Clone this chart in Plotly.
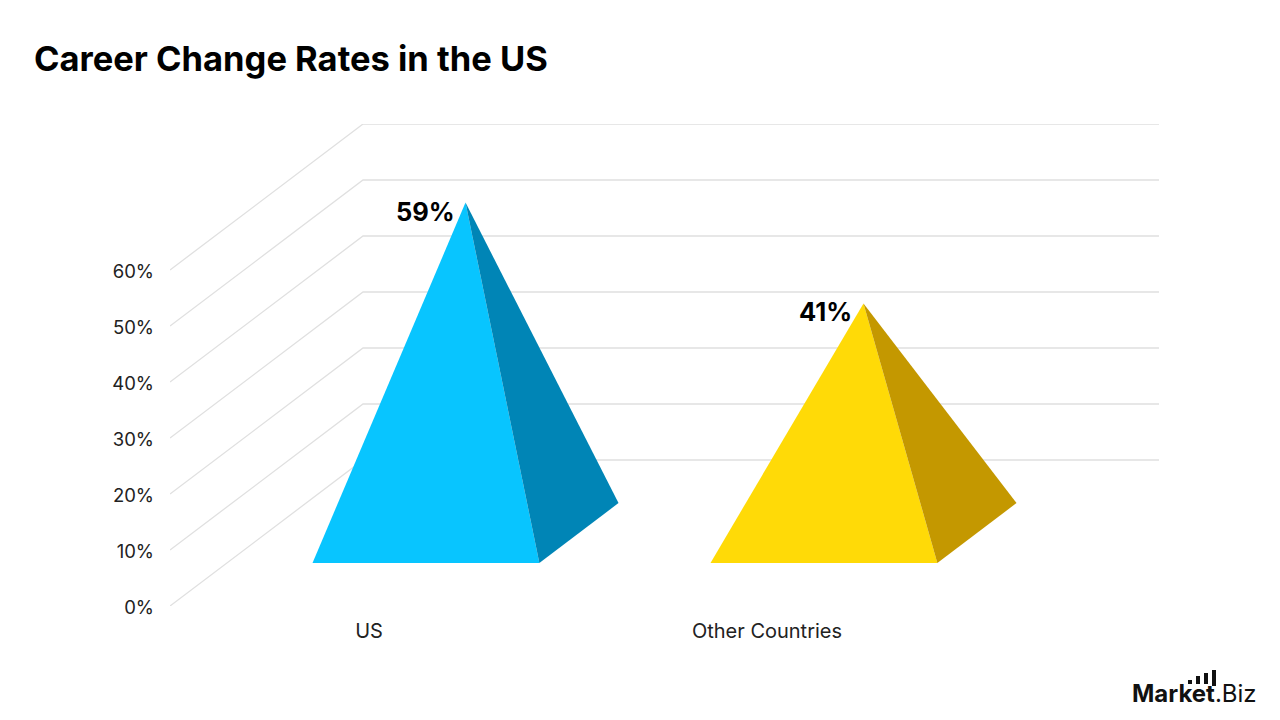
import plotly.graph_objects as go

# Chart content
title = "Career Change Rates in the US"
categories = ["US", "Other Countries"]
values = [59, 41]
front_colors = ["#08C5FF", "#FFDA07"]
side_colors = ["#0085B6", "#C49800"]
y_ticks = [0, 10, 20, 30, 40, 50, 60]
y_tick_labels = ["0%", "10%", "20%", "30%", "40%", "50%", "60%"]
logo_bar_left = [1188, 1196, 1204, 1212]
logo_bar_top = [680, 676, 673, 670]
logo_bar_bottom = [684, 684, 684, 686]

# Oblique projection of the 3D plot box
DEPTH_DX = 0.485     # category units shifted at full depth
DEPTH_DY = 26.07     # percentage units lifted at full depth
BASE_WIDTH = 0.57
BASE_NEAR, BASE_FAR = 0.295, 0.705
WALL_END = 1.985
FONT = "Inter"
WIDTH, HEIGHT = 1280, 720


def project(x, depth, height):
    return x + depth * DEPTH_DX, height + depth * DEPTH_DY


fig = go.Figure()

# Back wall and side wall gridlines, joined at the back corner
for tick in y_ticks:
    xs, ys = zip(project(-0.5, 0, tick), project(-0.5, 1, tick), project(WALL_END - DEPTH_DX, 1, tick))
    fig.add_trace(go.Scatter(x=xs, y=ys, mode="lines", line=dict(color="#E0E0E0", width=1.3),
                             hoverinfo="skip", showlegend=False, cliponaxis=False))

# Pyramids: visible front face and right face, apex over the base centre
for i, (name, value) in enumerate(zip(categories, values)):
    left, right = i - BASE_WIDTH / 2, i + BASE_WIDTH / 2
    front_l = project(left, BASE_NEAR, 0)
    front_r = project(right, BASE_NEAR, 0)
    back_r = project(right, BASE_FAR, 0)
    apex = project(i, 0.5, value)
    for pts, color in (((front_l, front_r, apex), front_colors[i]), ((front_r, back_r, apex), side_colors[i])):
        xs, ys = zip(*pts)
        fig.add_trace(go.Scatter(x=xs, y=ys, mode="lines", fill="toself", fillcolor=color,
                                 line=dict(width=0), name=name, showlegend=False, cliponaxis=False))
    fig.add_annotation(x=apex[0], y=apex[1], text=f"<b>{value}%</b>", showarrow=False,
                       xanchor="right", yanchor="middle", xshift=-9, yshift=-8.5,
                       font=dict(family=FONT, size=25.5, color="#000000"))

# Brand mark in the lower right corner
fig.add_annotation(xref="paper", yref="paper", x=1, y=0, xanchor="right", yanchor="bottom",
                   text="<b>Market</b>.Biz", showarrow=False, xshift=100, yshift=-104,
                   font=dict(family=FONT, size=24, color="#111111"))
for bar_left, bar_top, bar_bottom in zip(logo_bar_left, logo_bar_top, logo_bar_bottom):
    fig.add_shape(type="rect", xref="x domain", yref="y domain", line_width=0, fillcolor="#111111",
                  x0=(bar_left - 170) / 989, x1=(bar_left + 4 - 170) / 989,
                  y0=(606 - bar_bottom) / 482, y1=(606 - bar_top) / 482)

fig.update_layout(
    width=WIDTH, height=HEIGHT, paper_bgcolor="white", plot_bgcolor="white",
    margin=dict(l=170, r=121, t=124, b=114, autoexpand=False),
    title=dict(text=f"<b>{title}</b>", x=34 / WIDTH, xanchor="left", y=1 - 59 / HEIGHT, yanchor="middle",
               font=dict(family=FONT, size=34.5, color="#000000")),
    xaxis=dict(range=[-0.5, WALL_END], tickmode="array", tickvals=[0, 1], ticktext=categories,
               showgrid=False, zeroline=False, showline=False, ticks="", ticklabelstandoff=11,
               tickfont=dict(family=FONT, size=20, color="#222222")),
    yaxis=dict(range=[0, 86.07], tickmode="array", tickvals=y_ticks, ticktext=y_tick_labels,
               showgrid=False, zeroline=False, showline=False, ticks="", ticklabelstandoff=15,
               ticklabelshift=2,
               tickfont=dict(family=FONT, size=18.5, color="#222222")),
)

fig.write_html("out.html")
